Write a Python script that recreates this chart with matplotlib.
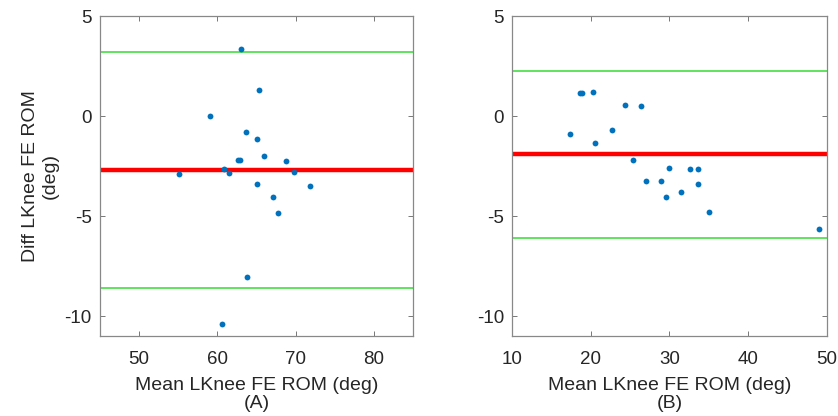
import matplotlib
matplotlib.use("Agg")
import matplotlib.pyplot as plt

plt.rcParams["font.family"] = ["Liberation Sans", "DejaVu Sans"]
plt.rcParams["axes.unicode_minus"] = False

# panel A: mean vs difference (deg)
mean_a = [63.0, 65.3, 59.1, 63.6, 65.1, 65.9, 62.7, 62.9, 68.8, 60.9,
          55.1, 61.5, 69.8, 65.1, 71.9, 67.1, 67.7, 63.8, 60.6]
diff_a = [3.33, 1.29, 0.02, -0.80, -1.13, -2.00, -2.22, -2.20, -2.27, -2.67,
          -2.92, -2.87, -2.82, -3.42, -3.48, -4.07, -4.85, -8.05, -10.4]
bias_a, loa_a = -2.72, (3.18, -8.58)

# panel B
mean_b = [17.4, 18.65, 18.9, 20.3, 20.5, 22.7, 24.4, 26.4, 25.3, 29.9,
          32.6, 33.6, 27.0, 28.9, 33.6, 31.5, 29.6, 35.0, 49.0]
diff_b = [-0.92, 1.15, 1.15, 1.22, -1.35, -0.68, 0.53, 0.50, -2.22, -2.60,
          -2.67, -2.67, -3.25, -3.25, -3.40, -3.82, -4.03, -4.82, -5.65]
bias_b, loa_b = -1.92, (2.23, -6.08)

panels = [
    dict(x=mean_a, y=diff_a, bias=bias_a, loa=loa_a, xlim=(45, 85),
         xticks=[50, 60, 70, 80], tag="(A)", rect=[0.1193, 0.1923, 0.3735, 0.769]),
    dict(x=mean_b, y=diff_b, bias=bias_b, loa=loa_b, xlim=(10, 50),
         xticks=[10, 20, 30, 40, 50], tag="(B)", rect=[0.6113, 0.1923, 0.3752, 0.769]),
]

fig = plt.figure(figsize=(8.38, 4.16), dpi=100)
for i, p in enumerate(panels):
    ax = fig.add_axes(p["rect"])
    ax.axhline(p["bias"], color="#ff0000", lw=3.2, zorder=2)
    for v in p["loa"]:
        ax.axhline(v, color="#33dd33", lw=1.1, zorder=2)
    ax.plot(p["x"], p["y"], "o", color="#0072BD", ms=4.2, mec="none", zorder=3)
    ax.set_xlim(*p["xlim"])
    ax.set_ylim(-11, 5)
    ax.set_xticks(p["xticks"])
    ax.set_yticks([-10, -5, 0, 5])
    ax.tick_params(direction="in", top=True, right=True, length=3.5,
                   width=0.7, color="#777777", labelsize=13.5,
                   labelcolor="#262626", pad=6)
    ax.tick_params(axis="x", pad=11)
    for s in ax.spines.values():
        s.set_color("#888888")
        s.set_linewidth(0.9)
    ax.set_xlabel("Mean LKnee FE ROM (deg)\n" + p["tag"], fontsize=14,
                  color="#262626", linespacing=1.1, labelpad=6)
    if i == 0:
        ax.set_ylabel("Diff LKnee FE ROM\n(deg)", fontsize=14, color="#262626",
                      linespacing=1.25, labelpad=4)

fig.savefig("out.png", dpi=100)
